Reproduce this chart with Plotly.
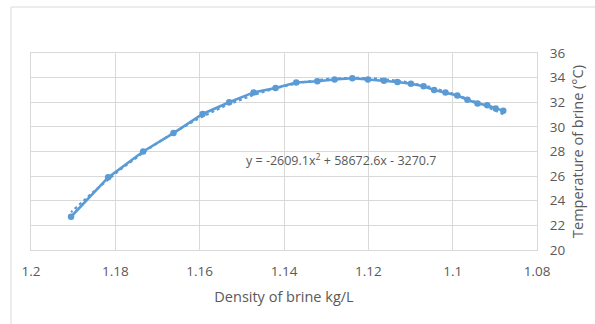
import numpy as np
import plotly.graph_objects as go

density = [1.1905, 1.1817, 1.1734, 1.1662, 1.1593, 1.1530, 1.1472, 1.1420, 1.1371,
           1.1321, 1.1280, 1.1238, 1.1201, 1.1163, 1.1131, 1.1099, 1.1069, 1.1044,
           1.1017, 1.0989, 1.0965, 1.0941, 1.0918, 1.0898, 1.0880]
temperature = [22.7, 25.9, 28.0, 29.5, 31.05, 32.0, 32.8, 33.15, 33.6,
               33.7, 33.85, 33.95, 33.85, 33.75, 33.65, 33.5, 33.3, 33.0,
               32.8, 32.55, 32.2, 31.9, 31.75, 31.5, 31.3]
x_tickvals = [1.2, 1.18, 1.16, 1.14, 1.12, 1.1, 1.08]
x_ticktext = ["1.2", "1.18", "1.16", "1.14", "1.12", "1.1", "1.08"]
y_tickvals = [20, 22, 24, 26, 28, 30, 32, 34, 36]
equation_text = "y = -2609.1x<sup>2</sup> + 58672.6x - 3270.7"

# polynomial (order 2) trendline fitted to the data
coef = np.polyfit(density, temperature, 2)
xt = np.linspace(min(density), max(density), 120)
yt = np.polyval(coef, xt)

blue = "#5B9BD5"
txt = "#595959"
grid = "#D9D9D9"
font = "Open Sans"

fig = go.Figure()
fig.add_trace(go.Scatter(x=xt, y=yt, mode="lines",
                         line=dict(color=blue, width=2.2, dash="dot"),
                         hoverinfo="skip", showlegend=False))
fig.add_trace(go.Scatter(x=density, y=temperature, mode="lines+markers",
                         line=dict(color=blue, width=2.6),
                         marker=dict(color=blue, size=6.5),
                         showlegend=False))

fig.add_annotation(x=1.1494, y=27.3, xref="x", yref="y", text=equation_text,
                   showarrow=False, xanchor="left", yanchor="middle",
                   font=dict(family=font, size=12.5, color=txt))

# chart-area frame
fig.add_shape(type="rect", xref="paper", yref="paper",
              x0=-0.0395, y0=-0.6, x1=1.5, y1=1.2335,
              line=dict(color="#D9D9D9", width=1), layer="below")

fig.update_xaxes(range=[1.2, 1.08], tickvals=x_tickvals, ticktext=x_ticktext,
                 showgrid=True, gridcolor=grid, gridwidth=1,
                 showline=True, linecolor=grid, mirror=True,
                 zeroline=False, ticks="", ticklabelstandoff=9,
                 tickfont=dict(family=font, size=13.5, color=txt),
                 title=dict(text="Density of brine kg/L", standoff=12,
                            font=dict(family=font, size=14.5, color=txt)))
fig.update_yaxes(range=[20, 36], tickvals=y_tickvals, side="right",
                 showgrid=True, gridcolor=grid, gridwidth=1,
                 showline=True, linecolor=grid, mirror=True,
                 zeroline=False, ticks="", ticklabelstandoff=9,
                 tickfont=dict(family=font, size=13.5, color=txt),
                 title=dict(text="Temperature of brine (°C)", standoff=8,
                            font=dict(family=font, size=14.5, color=txt)))

fig.update_layout(width=595, height=324,
                  margin=dict(l=31, r=58, t=53, b=74, autoexpand=False),
                  paper_bgcolor="white", plot_bgcolor="white")

fig.write_html("out.html", config={"displayModeBar": False},
               post_script="document.body.style.margin='0';")
